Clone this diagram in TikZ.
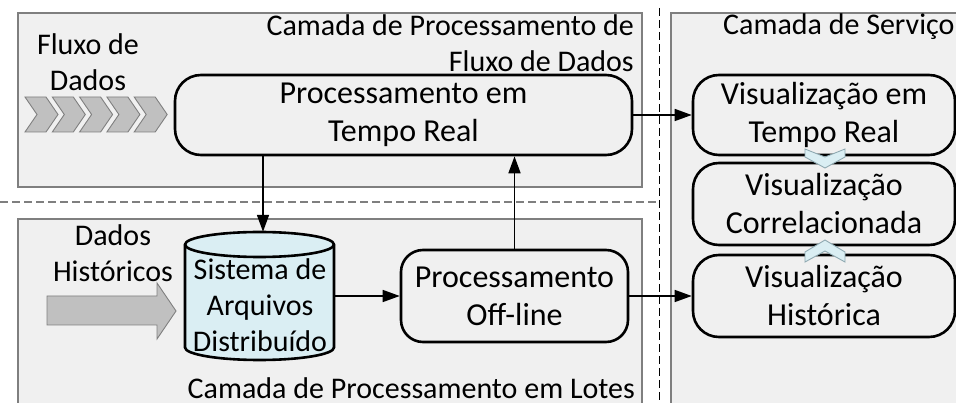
\documentclass[tikz,border=0pt]{standalone}
\usepackage{fontspec}
\setmainfont{Carlito}
\usetikzlibrary{arrows.meta,calc}
\definecolor{panelfill}{HTML}{F0F0F0}
\definecolor{panelline}{HTML}{7F7F7F}
\definecolor{streamfill}{HTML}{C0C0C0}
\definecolor{storefill}{HTML}{DAEEF3}
\definecolor{linkline}{HTML}{8FA9B1}
\tikzset{
  panel/.style={draw=panelline, fill=panelfill, line width=1.3pt},
  procbox/.style={draw=black, fill=panelfill, line width=2.6pt, rounded corners=26pt,
    align=center, inner sep=0pt, font=\fontsize{32}{38}\selectfont},
  lbl/.style={inner sep=0pt, font=\fontsize{30}{36}\selectfont},
  flow/.style={line width=1.6pt, -{Triangle[length=17pt,width=12pt]}},
  streamarrow/.style={draw=panelline, fill=streamfill, line width=0.9pt, line join=miter},
  linkchev/.style={draw=linkline, fill=storefill, line width=0.9pt},
  storeline/.style={draw=black, line width=2.6pt},
}
\begin{document}
\begin{tikzpicture}[x=1pt,y=-1pt]
\useasboundingbox (0,0) rectangle (956,403);
\clip (0,0) rectangle (956,403);

% layer panels
\draw[panel] (18,13) rectangle (642,187);
\draw[panel] (18,219) rectangle (642,430);
\draw[panel] (671,13) rectangle (980,430);

% layer separators
\draw[panelline, line width=1.6pt, dash pattern=on 8pt off 4pt] (0,202) -- (659,202);
\draw[black, line width=0.9pt, dash pattern=on 8pt off 4pt] (659,8) -- (659,403);

% layer titles
\node[lbl, align=right, anchor=east] (ttlstream) at (634,42.7)
  {Camada de Processamento de\\Fluxo de Dados};
\node[lbl, anchor=base east] (ttlbatch) at (635,398) {Camada de Processamento em Lotes};
\node[lbl, anchor=base west] (ttlserve) at (723,35) {Camada de Serviço};

% input labels
\node[lbl, align=center] (inflow) at (88,61.7) {Fluxo de\\Dados};
\node[lbl, align=center] (inhist) at (113,252.7) {Dados\\Históricos};

% data stream chevrons
\foreach \i in {0,...,4} {
  \draw[streamarrow] ({25+27.3*\i},97) -- ++(21,0) -- ++(12,17.5) -- ++(-12,17.5)
    -- ++(-21,0) -- ++(12,-17.5) -- cycle;
}

% historical data block arrow
\draw[streamarrow] (47,296) -- (157,296) -- (157,283) -- (176,311) -- (157,339)
  -- (157,325) -- (47,325) -- cycle;

% distributed file system (cylinder)
\path[fill=storefill, storeline] (185,244.5) -- (185,347.5)
  arc[start angle=180, end angle=360, x radius=74.5pt, y radius=12.5pt]
  -- (334,244.5)
  arc[start angle=0, end angle=180, x radius=74.5pt, y radius=12.5pt] -- cycle;
\draw[storeline] (185,244.5)
  arc[start angle=180, end angle=360, x radius=74.5pt, y radius=12.5pt];
\node[inner sep=0pt, minimum width=149pt, minimum height=128pt] (dfs) at (259.5,296) {};
\node[lbl, align=center] (dfstext) at (260,305.6) {Sistema de\\Arquivos\\Distribuído};

% processing boxes
\node[procbox, minimum width=457pt, minimum height=80pt] (tr) at (403.5,115)
  {Processamento em\\Tempo Real};
\node[procbox, rounded corners=22pt, minimum width=227pt, minimum height=92pt] (off) at (514.5,296)
  {Processamento\\Off-line};

% serving boxes
\node[procbox, minimum width=262pt, minimum height=80pt] (vtr) at (824,115)
  {Visualização em\\Tempo Real};
\node[procbox, minimum width=262pt, minimum height=82pt] (vcor) at (824,204)
  {Visualização\\Correlacionada};
\node[procbox, minimum width=262pt, minimum height=82pt] (vhist) at (824,296)
  {Visualização\\Histórica};

% links between serving boxes
\draw[linkchev] (805,149) -- (825,157) -- (845,149) -- (845,157) -- (825,168)
  -- (805,157) -- cycle;
\draw[linkchev] (825,240) -- (845,252) -- (845,262) -- (825,251) -- (805,262)
  -- (805,252) -- cycle;

% data flow connectors
\coordinate (feed) at (263,0);
\draw[flow] (tr.south -| feed) -- (dfs.north -| feed);
\draw[flow] (dfs.east) -- (off.west);
\draw[flow] (off.north) -- (off.north |- tr.south);
\draw[flow] (tr.east) -- (vtr.west);
\draw[flow] (off.east) -- (vhist.west);
\end{tikzpicture}
\end{document}
